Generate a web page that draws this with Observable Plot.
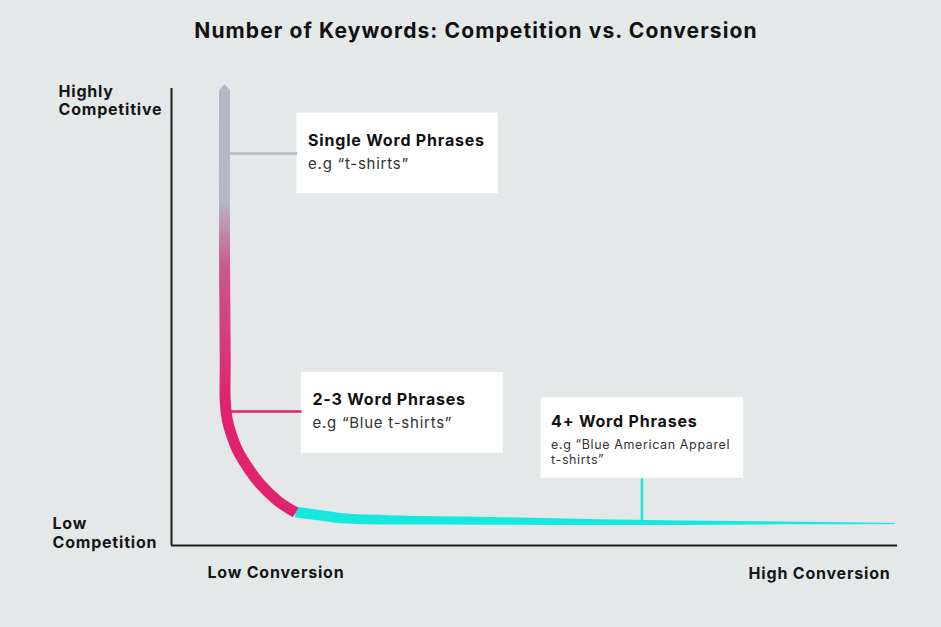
<!DOCTYPE html>
<html><head><meta charset="utf-8">
<script src="https://cdn.jsdelivr.net/npm/d3@7"></script>
<script src="https://cdn.jsdelivr.net/npm/@observablehq/plot@0.6"></script>
<style>
html,body{margin:0;padding:0;background:#e5e8e9;}
body{width:941px;height:627px;overflow:hidden;font-family:Inter,"Open Sans",sans-serif;}
#title{height:50px;box-sizing:border-box;padding-top:19px;padding-left:11px;text-align:center;font-weight:700;font-size:21px;line-height:24px;letter-spacing:1.1px;color:#111;}
#chart svg{display:block;}
#chart svg text{letter-spacing:0.05em;}
</style></head><body>
<div id="title">Number of Keywords: Competition vs. Conversion</div>
<div id="chart"></div>
<script>
// ---- data: the keyword curve (conversion 0–100, competition 0–100) ----
const conversion  = [7.3, 7.3, 7.4, 7.4, 7.7, 8.2, 9.1, 10.5, 12.3, 14.6, 17.1, 20.5, 23.3, 30.2, 43.9, 59.1, 86.6, 99.7];
const competition = [99.6, 64.6, 40.5, 31.7, 27.4, 24.5, 20.8, 17.1, 13.3, 9.8, 7.2, 6.5, 5.9, 5.5, 5.3, 5.0, 4.8, 4.7];
const segment     = ["head","head","head","head","head","head","head","head","head","head","head","tail","tail","tail","tail","tail","tail","tail"];

// ---- callouts ----
const calloutTitles   = ["Single Word Phrases", "2-3 Word Phrases", "4+ Word Phrases"];
const calloutExamples = ["e.g \u201ct-shirts\u201d", "e.g \u201cBlue t-shirts\u201d", "e.g \u201cBlue American Apparel\nt-shirts\u201d"];
const calloutColors   = ["#b5b7c4", "#e0206c", "#16e8e0"];
const leaderConversion  = [7.3, 7.4, 64.8];   // where each leader meets the curve
const leaderCompetition = [85.8, 29.3, 5.1];
const leaderDirection   = ["h", "h", "v"];
const boxLeft   = [17.3, 17.9, 50.9];
const boxRight  = [45.0, 45.7, 78.8];
const boxTop    = [94.6, 37.9, 32.3];
const boxBottom = [77.0, 20.2, 14.7];

// ---- axis labels ----
const yTickValues = [0, 100];
const yTickLabels = ["Low\nCompetition", "Highly\nCompetitive"];
const xTickValues = [0, 100];
const xTickLabels = ["Low Conversion", "High Conversion"];

// ---- build tables ----
const pts = conversion.map((c, i) => ({conversion: c, competition: competition[i], segment: segment[i]}));
const head = pts.filter(d => d.segment === "head");
const tail = [head[head.length - 1], ...pts.filter(d => d.segment === "tail")];
const callouts = calloutTitles.map((t, i) => ({
  title: t, example: calloutExamples[i], color: calloutColors[i],
  lx: leaderConversion[i], ly: leaderCompetition[i], dir: leaderDirection[i],
  x1: boxLeft[i], x2: boxRight[i], top: boxTop[i], bottom: boxBottom[i], idx: i
}));
const yTicks = yTickValues.map((v, i) => ({value: v, label: yTickLabels[i]}));
const xTicks = xTickValues.map((v, i) => ({value: v, label: xTickLabels[i]}));

const W = 941, H = 577, mt = 38, mb = 82, ml = 171, mr = 44;
const pxPerY = (H - mt - mb) / 100;
const tx0 = tail[0].conversion, tx1 = tail[tail.length - 1].conversion;
const thick = c => 11 - 10 * (c - tx0) / (tx1 - tx0); // taper in px
const FONT = "Inter, 'Open Sans', sans-serif";

const tipSymbol = {draw(ctx, size) { const r = Math.sqrt(size / Math.PI); ctx.moveTo(-r, 0); ctx.lineTo(0, -r * 1.15); ctx.lineTo(r, 0); ctx.closePath(); }};

const plot = Plot.plot({
  width: W, height: H,
  marginTop: mt, marginBottom: mb, marginLeft: ml, marginRight: mr,
  x: {domain: [0, 100], axis: null},
  y: {domain: [0, 100], axis: null},
  color: {type: "identity"},
  style: {background: "transparent", overflow: "visible"},
  marks: [
    Plot.rect(callouts, {x1: "x1", x2: "x2", y1: "bottom", y2: "top", fill: "white"}),
    Plot.link(callouts, {
      x1: "lx", y1: "ly",
      x2: d => d.dir === "h" ? d.x1 : d.lx,
      y2: d => d.dir === "h" ? d.ly : d.bottom,
      stroke: "color", strokeWidth: 2.5
    }),
    Plot.area(tail, {
      x1: "conversion",
      y1: d => d.competition - thick(d.conversion) / 2 / pxPerY,
      y2: d => d.competition + thick(d.conversion) / 2 / pxPerY,
      fill: calloutColors[2], curve: "monotone-x"
    }),
    Plot.line(head, {x: "conversion", y: "competition", stroke: "url(#kwGrad)", strokeWidth: 11, curve: "catmull-rom", strokeLinecap: "butt"}),
    Plot.dot(head.slice(0, 1), {x: "conversion", y: "competition", symbol: tipSymbol, r: 5.5, fill: calloutColors[0], stroke: "none"}),
    Plot.ruleX([0], {y1: 0, y2: 100, stroke: "#1e1e1e", strokeWidth: 2}),
    Plot.ruleY([0], {x1: 0, x2: 100, stroke: "#1e1e1e", strokeWidth: 2}),
    // y labels
    Plot.text(yTicks.filter(d => d.value === 0), {y: "value", text: "label", frameAnchor: "left", dx: -119, textAnchor: "start", lineAnchor: "bottom", dy: 2, fontSize: 16, fontWeight: 700, fontFamily: FONT, fill: "#151515", lineHeight: 1.15}),
    Plot.text(yTicks.filter(d => d.value === 100), {y: "value", text: "label", frameAnchor: "left", dx: -113, textAnchor: "start", lineAnchor: "top", dy: -5, fontSize: 16, fontWeight: 700, fontFamily: FONT, fill: "#151515", lineHeight: 1.15}),
    // x labels
    Plot.text(xTicks.filter(d => d.value === 0), {x: "value", y: () => 0, text: "label", textAnchor: "start", dx: 36, dy: 27, fontSize: 16, fontWeight: 700, fontFamily: FONT, fill: "#151515"}),
    Plot.text(xTicks.filter(d => d.value === 100), {x: "value", y: () => 0, text: "label", textAnchor: "end", dx: -7, dy: 28, fontSize: 16, fontWeight: 700, fontFamily: FONT, fill: "#151515"}),
    // callout titles
    Plot.text(callouts.filter(d => d.idx < 2), {x: "x1", y: "top", text: "title", textAnchor: "start", lineAnchor: "top", dx: 11, dy: 21, fontSize: 16, fontWeight: 700, fontFamily: FONT, fill: "#111"}),
    Plot.text(callouts.filter(d => d.idx === 2), {x: "x1", y: "top", text: "title", textAnchor: "start", lineAnchor: "top", dx: 10, dy: 18, fontSize: 16, fontWeight: 700, fontFamily: FONT, fill: "#111"}),
    Plot.text(callouts.filter(d => d.idx < 2), {x: "x1", y: "top", text: "example", textAnchor: "start", lineAnchor: "top", dx: 11, dy: 44.7, fontSize: 15, fontWeight: 400, fontFamily: FONT, fill: "#333"}),
    Plot.text(callouts.filter(d => d.idx === 2), {x: "x1", y: "top", text: "example", textAnchor: "start", lineAnchor: "top", dx: 10, dy: 40.5, fontSize: 12.5, fontWeight: 400, fontFamily: FONT, fill: "#333", lineHeight: 1.2})
  ]
});

// gradient for the head of the curve (grey -> pink)
const ys = plot.scale("y");
const gradStops = [{competition: 75.5, color: "#b5b7c4"}, {competition: 60.8, color: "#c9598b"}, {competition: 31.7, color: "#df236d"}];
const gy0 = ys.apply(gradStops[0].competition), gy1 = ys.apply(gradStops[gradStops.length - 1].competition);
const defs = d3.select(plot).insert("defs", ":first-child");
const grad = defs.append("linearGradient").attr("id", "kwGrad").attr("gradientUnits", "userSpaceOnUse")
  .attr("x1", 0).attr("x2", 0).attr("y1", gy0).attr("y2", gy1);
gradStops.forEach(s => grad.append("stop").attr("offset", (ys.apply(s.competition) - gy0) / (gy1 - gy0)).attr("stop-color", s.color));

document.getElementById("chart").appendChild(plot);
</script>
</body></html>
